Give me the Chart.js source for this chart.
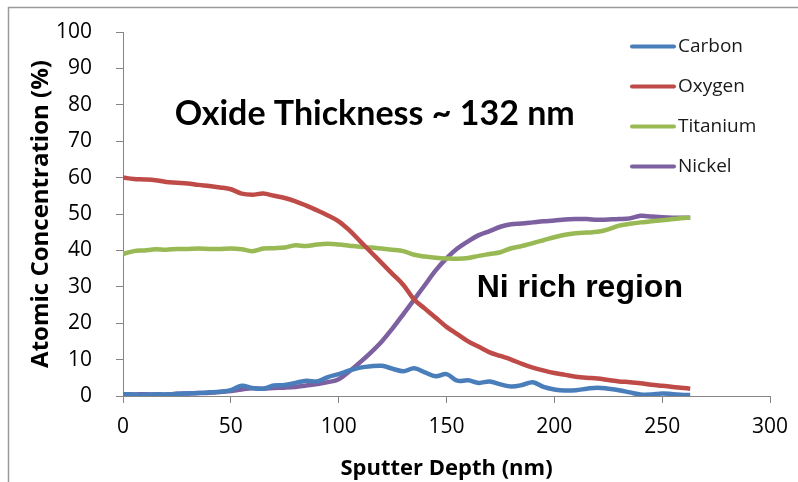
<!DOCTYPE html>
<html>
<head>
<meta charset="utf-8">
<script src="https://cdn.jsdelivr.net/npm/chart.js@4.4.0/dist/chart.umd.min.js"></script>
<style>
  html, body { margin: 0; padding: 0; background: #fff; }
  #wrap { width: 798px; height: 482px; position: relative; }
</style>
</head>
<body>
<div id="wrap"><canvas id="aesChart" width="798" height="482"></canvas></div>
<script>
// sputter depth (nm) at each sample
const depth = [0, 5, 10, 15, 20, 25, 30, 35, 40, 45, 50, 55, 60, 65, 70, 75, 80, 85, 90, 95,
  100, 105, 110, 115, 120, 125, 130, 135, 140, 145, 150, 155, 160, 165, 170, 175, 180, 185, 190, 195,
  200, 205, 210, 215, 220, 225, 230, 235, 240, 245, 250, 255, 260, 263];

const carbon = [0.5, 0.4, 0.3, 0.5, 0.4, 0.6, 0.7, 0.8, 1.0, 1.2, 1.6, 2.8, 2.2, 2.0, 2.9, 3.0, 3.6, 4.2, 4.0, 5.2,
  6.0, 7.0, 7.8, 8.2, 8.3, 7.5, 6.8, 7.6, 6.5, 5.4, 6.0, 4.2, 4.3, 3.6, 4.0, 3.2, 2.6, 3.0, 3.8, 2.5,
  1.8, 1.5, 1.6, 2.0, 2.3, 2.0, 1.6, 1.0, 0.4, 0.4, 0.7, 0.5, 0.3, 0.3];

const oxygen = [60.0, 59.6, 59.5, 59.3, 58.8, 58.6, 58.4, 58.0, 57.7, 57.3, 56.8, 55.6, 55.3, 55.6, 55.0, 54.4, 53.5, 52.3, 51.0, 49.6,
  48.0, 45.5, 42.5, 39.5, 36.5, 33.5, 30.5, 26.5, 24.0, 21.5, 19.0, 17.0, 15.0, 13.5, 12.0, 11.0, 10.0, 8.8, 7.8, 7.0,
  6.3, 5.8, 5.3, 5.0, 4.8, 4.4, 4.0, 3.8, 3.5, 3.1, 2.8, 2.5, 2.2, 2.0];

const titanium = [39.0, 39.8, 40.0, 40.3, 40.2, 40.4, 40.4, 40.5, 40.4, 40.4, 40.5, 40.3, 39.8, 40.5, 40.6, 40.8, 41.4, 41.2, 41.6, 41.8,
  41.6, 41.3, 41.0, 40.8, 40.5, 40.2, 39.8, 38.8, 38.3, 38.0, 37.8, 37.7, 37.9, 38.5, 39.0, 39.5, 40.6, 41.2, 42.0, 42.8,
  43.6, 44.3, 44.7, 44.9, 45.1, 45.8, 46.8, 47.3, 47.7, 48.0, 48.3, 48.6, 48.9, 49.0];

const nickel = [0.5, 0.4, 0.5, 0.3, 0.4, 0.6, 0.7, 0.8, 0.9, 1.1, 1.4, 1.8, 2.1, 2.0, 2.2, 2.3, 2.5, 2.9, 3.3, 3.8,
  4.6, 6.8, 9.3, 12.0, 15.0, 18.6, 22.5, 26.5, 30.5, 34.5, 37.8, 40.5, 42.5, 44.2, 45.3, 46.5, 47.2, 47.4, 47.7, 48.0,
  48.2, 48.5, 48.6, 48.6, 48.4, 48.5, 48.6, 48.8, 49.5, 49.3, 49.1, 49.0, 49.0, 49.0];

const seriesNames = ['Carbon', 'Oxygen', 'Titanium', 'Nickel'];
const seriesColors = ['#4a7ebb', '#be4b48', '#98b954', '#7d60a0'];
const seriesValues = [carbon, oxygen, titanium, nickel];

const xTicks = [0, 50, 100, 150, 200, 250, 300];
const yTicks = [0, 10, 20, 30, 40, 50, 60, 70, 80, 90, 100];

const notes = [
  { text: 'Oxide Thickness ~ 132 nm', x: 24, y: 77.5, font: 'bold 34px Lato', align: 'left' },
  { text: 'Ni rich region', x: 164, y: 29.5, font: 'bold 32px "Liberation Sans"', align: 'left' }
];

const axisGray = '#868686';
const labelFont = '"Open Sans"';

function toPoints(vals) {
  return vals.map((v, i) => ({ x: depth[i], y: v }));
}

// grey frame on the left and top, as in the pasted figure
const framePlugin = {
  id: 'frame',
  beforeDraw(chart) {
    const c = chart.ctx;
    c.save();
    c.fillStyle = '#fff';
    c.fillRect(0, 0, chart.width, chart.height);
    c.strokeStyle = '#9a9a9a';
    c.lineWidth = 1.5;
    c.beginPath();
    c.moveTo(8.5, chart.height);
    c.lineTo(8.5, 7.5);
    c.lineTo(chart.width, 7.5);
    c.stroke();
    c.restore();
  }
};

// legend drawn inside the plot, top right
const innerLegend = {
  id: 'innerLegend',
  afterDraw(chart) {
    const c = chart.ctx;
    c.save();
    c.font = '19px ' + labelFont;
    c.textBaseline = 'middle';
    chart.data.datasets.forEach((ds, i) => {
      const y = 46.5 + i * 40;
      c.strokeStyle = ds.borderColor;
      c.lineWidth = 4;
      c.lineCap = 'round';
      c.beginPath();
      c.moveTo(632, y);
      c.lineTo(674, y);
      c.stroke();
      c.fillStyle = '#1a1a1a';
      c.fillText(ds.label, 678, y);
    });
    c.restore();
  }
};

const notesPlugin = {
  id: 'notes',
  afterDraw(chart) {
    const c = chart.ctx;
    const xs = chart.scales.x, ys = chart.scales.y;
    c.save();
    c.fillStyle = '#000';
    c.textBaseline = 'middle';
    notes.forEach(n => {
      c.font = n.font;
      c.textAlign = n.align;
      c.fillText(n.text, xs.getPixelForValue(n.x), ys.getPixelForValue(n.y));
    });
    c.restore();
  }
};

const ctx = document.getElementById('aesChart').getContext('2d');

const aesChart = new Chart(ctx, {
  type: 'line',
  data: {
    datasets: seriesNames.map((name, i) => ({
      label: name,
      data: toPoints(seriesValues[i]),
      borderColor: seriesColors[i],
      backgroundColor: seriesColors[i],
      borderWidth: 4.5,
      pointRadius: 0,
      tension: 0.35,
      fill: false
    }))
  },
  options: {
    responsive: false,
    animation: false,
    layout: { padding: { top: 32, right: 28, bottom: 0, left: 0 } },
    plugins: {
      legend: { display: false },
      tooltip: { enabled: false }
    },
    scales: {
      x: {
        type: 'linear',
        min: 0,
        max: 300,
        afterBuildTicks(scale) { scale.ticks = xTicks.map(v => ({ value: v })); },
        afterFit(scale) { scale.height = 86; scale.paddingLeft = 0; scale.paddingRight = 0; },
        grid: { drawOnChartArea: false, drawTicks: true, tickLength: 7, color: axisGray },
        border: { display: true, color: axisGray, width: 1 },
        ticks: { color: '#000', font: { family: labelFont, size: 21 }, padding: 11, maxRotation: 0 },
        title: {
          display: true,
          text: 'Sputter Depth (nm)',
          color: '#000',
          font: { family: labelFont, size: 22, weight: 'bold' },
          padding: { top: 2, bottom: 0 }
        }
      },
      y: {
        min: 0,
        max: 100,
        afterBuildTicks(scale) { scale.ticks = yTicks.map(v => ({ value: v })); },
        afterFit(scale) { scale.width = 123; scale.paddingTop = 0; scale.paddingBottom = 0; },
        grid: { drawOnChartArea: false, drawTicks: true, tickLength: 7, color: axisGray },
        border: { display: true, color: axisGray, width: 1 },
        ticks: { color: '#000', font: { family: labelFont, size: 21 }, padding: 24 },
        title: {
          display: true,
          text: 'Atomic Concentration (%)',
          color: '#000',
          font: { family: labelFont, size: 24, weight: 'bold' },
          padding: { top: 27, bottom: 0 }
        }
      }
    }
  },
  plugins: [framePlugin, innerLegend, notesPlugin]
});
</script>
</body>
</html>
